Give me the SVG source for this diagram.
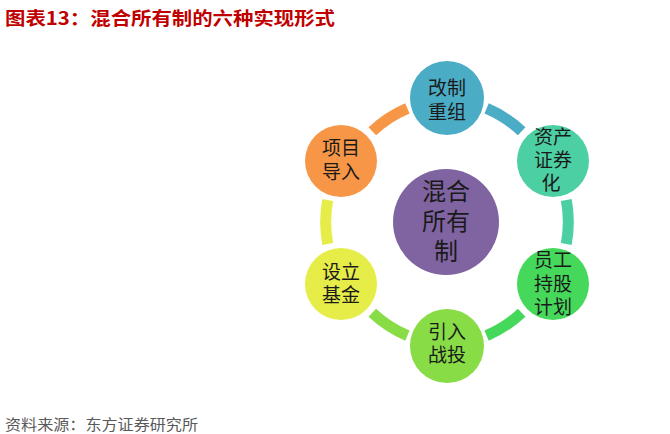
<svg xmlns="http://www.w3.org/2000/svg" width="670" height="434" viewBox="0 0 670 434">
<style>
.t{font-family:"Noto Sans CJK SC","Liberation Sans",sans-serif;fill:#1a1a1a;text-anchor:middle}
.n{font-size:19px}
.c{font-size:24px}
.arc{fill:none;stroke-width:11}
.title{font-family:"Noto Sans CJK SC","Liberation Sans",sans-serif;font-size:18px;font-weight:bold;fill:#C00000}
.foot{font-family:"Noto Sans CJK SC","Liberation Sans",sans-serif;font-size:15px;fill:#595959}
</style>
<rect width="670" height="434" fill="#ffffff"/>
<text class="title" x="5" y="25" textLength="330" lengthAdjust="spacingAndGlyphs">图表13：混合所有制的六种实现形式</text>
<g id="connectors">
<path class="arc" stroke="#4BACC6" d="M 486.6 108.4 A 120 120 0 0 1 521.7 131.3"/>
<path class="arc" stroke="#4CCFA2" d="M 566.3 200.1 A 120 120 0 0 1 566.3 243.9"/>
<path class="arc" stroke="#46D85A" d="M 521.7 312.7 A 120 120 0 0 1 486.6 335.6"/>
<path class="arc" stroke="#88DC46" d="M 407.4 335.6 A 120 120 0 0 1 372.3 312.7"/>
<path class="arc" stroke="#E6EC48" d="M 327.7 243.9 A 120 120 0 0 1 327.7 200.1"/>
<path class="arc" stroke="#F79646" d="M 372.3 131.3 A 120 120 0 0 1 407.4 108.4"/>
</g>
<g id="center">
<circle cx="446" cy="222" r="53" fill="#8064A2"/>
<text class="t c" x="446" y="200">混合</text>
<text class="t c" x="446" y="230">所有</text>
<text class="t c" x="446" y="260">制</text>
</g>
<g id="n1">
<circle cx="447" cy="98" r="37" fill="#4BACC6"/>
<text class="t n" x="447" y="95">改制</text>
<text class="t n" x="447" y="119">重组</text>
</g>
<g id="n2">
<circle cx="553" cy="161" r="36" fill="#4CCFA2"/>
<text class="t n" x="553" y="144">资产</text>
<text class="t n" x="553" y="167">证券</text>
<text class="t n" x="551" y="190">化</text>
</g>
<g id="n3">
<circle cx="553" cy="284" r="36" fill="#46D85A"/>
<text class="t n" x="553" y="267">员工</text>
<text class="t n" x="553" y="291">持股</text>
<text class="t n" x="553" y="314">计划</text>
</g>
<g id="n4">
<circle cx="447" cy="346" r="37" fill="#88DC46"/>
<text class="t n" x="447" y="339">引入</text>
<text class="t n" x="447" y="362">战投</text>
</g>
<g id="n5">
<circle cx="341" cy="284" r="36" fill="#E6EC48"/>
<text class="t n" x="341" y="279">设立</text>
<text class="t n" x="341" y="302">基金</text>
</g>
<g id="n6">
<circle cx="341" cy="161" r="36" fill="#F79646"/>
<text class="t n" x="341" y="155">项目</text>
<text class="t n" x="341" y="179">导入</text>
</g>
<text class="foot" x="5" y="430" textLength="193" lengthAdjust="spacingAndGlyphs">资料来源：东方证券研究所</text>
</svg>
